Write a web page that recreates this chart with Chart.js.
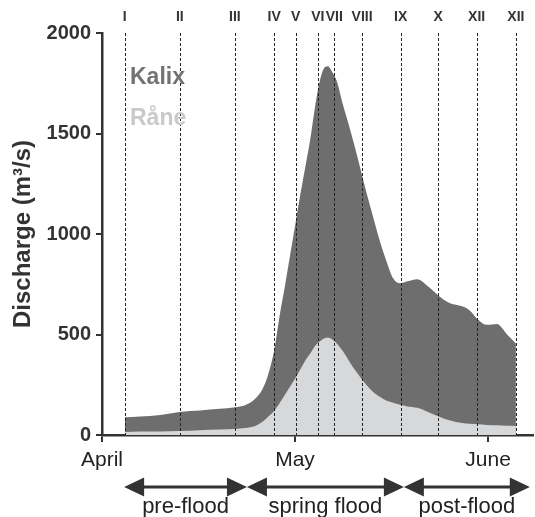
<!DOCTYPE html>
<html>
<head>
<meta charset="utf-8">
<script src="https://cdn.jsdelivr.net/npm/chart.js@4"></script>
<style>
  html, body { margin: 0; padding: 0; background: #fff; }
  #wrap { width: 535px; height: 517px; }
</style>
</head>
<body>
<div id="wrap"><canvas id="myChart" width="535" height="517"></canvas></div>
<script>
// days after 1 April
const days = [3.6, 6.0, 9.2, 12.3, 15.5, 18.6, 21.0, 22.6, 24.2, 25.3, 26.2, 27.2, 28.1, 28.9, 29.7,
  30.5, 31.3, 32.1, 32.9, 33.6, 34.4, 35.2, 35.7, 36.3, 37.1, 38.1, 39.2, 40.3, 41.5, 42.8,
  43.9, 45.0, 46.0, 47.1, 48.3, 49.8, 51.5, 53.4, 55.0, 56.9, 58.1, 59.4, 60.8, 62.4, 64.0, 65.4];
const kalix = [88, 92, 100, 115, 122, 130, 138, 148, 180, 225, 295, 420, 600, 740, 890,
  1040, 1190, 1330, 1470, 1620, 1760, 1830, 1835, 1810, 1760, 1640, 1520, 1390, 1240, 1090,
  965, 860, 780, 755, 765, 775, 740, 688, 655, 640, 620, 575, 548, 552, 500, 455];
const rane = [15, 17, 18, 20, 24, 27, 30, 35, 45, 65, 90, 120, 160, 200, 240,
  280, 325, 370, 405, 440, 465, 482, 485, 478, 455, 415, 360, 310, 260, 215,
  190, 170, 160, 150, 142, 135, 115, 90, 72, 60, 56, 53, 50, 48, 46, 45];

const monthDays = [0, 30.5, 61];
const monthLabels = ["April", "May", "June"];

const sampleDays = [3.6, 12.3, 21.0, 27.2, 30.6, 34.1, 36.7, 41.1, 47.2, 53.1, 59.2, 65.4];
const sampleLabels = ["I", "II", "III", "IV", "V", "VI", "VII", "VIII", "IX", "X", "XII", "XII"];

const phaseEdges = [3.5, 22.9, 47.7, 67.6];
const phaseLabels = ["pre-flood", "spring flood", "post-flood"];

const dark = "#333333";
const font = "'Liberation Sans', Arial, sans-serif";

const overlay = {
  id: "overlay",
  afterDatasetsDraw(chart) {
    const ctx = chart.ctx;
    const x = chart.scales.x;
    const top = chart.chartArea.top, bottom = chart.chartArea.bottom;
    ctx.save();
    // sampling lines
    ctx.strokeStyle = "#222";
    ctx.lineWidth = 1;
    ctx.setLineDash([3, 2]);
    sampleDays.forEach(d => {
      const px = Math.round(x.getPixelForValue(d)) + 0.5;
      ctx.beginPath();
      ctx.moveTo(px, top);
      ctx.lineTo(px, bottom);
      ctx.stroke();
    });
    ctx.setLineDash([]);
    ctx.fillStyle = dark;
    ctx.font = "bold 14px 'Liberation Sans Narrow', " + font;
    ctx.textAlign = "center";
    ctx.textBaseline = "middle";
    sampleLabels.forEach((t, i) => {
      ctx.fillText(t, x.getPixelForValue(sampleDays[i]), 17);
    });
    // series names
    ctx.textAlign = "left";
    ctx.font = "bold 23px " + font;
    ctx.fillStyle = "#737373";
    ctx.fillText("Kalix", 130, 78);
    ctx.fillStyle = "#c9c9c9";
    ctx.fillText("Råne", 130, 119);
    ctx.restore();
  },
  afterDraw(chart) {
    const ctx = chart.ctx;
    const x = chart.scales.x;
    const ay = 487, head = 20, half = 9.5;
    ctx.save();
    ctx.fillStyle = dark;
    ctx.strokeStyle = dark;
    ctx.lineWidth = 3;
    for (let i = 0; i < phaseLabels.length; i++) {
      const x1 = x.getPixelForValue(phaseEdges[i]);
      const x2 = x.getPixelForValue(phaseEdges[i + 1]);
      ctx.beginPath();
      ctx.moveTo(x1 + head - 2, ay);
      ctx.lineTo(x2 - head + 2, ay);
      ctx.stroke();
      ctx.beginPath();
      ctx.moveTo(x1, ay);
      ctx.lineTo(x1 + head, ay - half);
      ctx.lineTo(x1 + head, ay + half);
      ctx.closePath();
      ctx.fill();
      ctx.beginPath();
      ctx.moveTo(x2, ay);
      ctx.lineTo(x2 - head, ay - half);
      ctx.lineTo(x2 - head, ay + half);
      ctx.closePath();
      ctx.fill();
      ctx.fillStyle = "#222";
      ctx.font = "22px " + font;
      ctx.textAlign = "center";
      ctx.textBaseline = "middle";
      ctx.fillText(phaseLabels[i], (x1 + x2) / 2, 507);
      ctx.fillStyle = dark;
    }
    ctx.restore();
  }
};

new Chart(document.getElementById("myChart").getContext("2d"), {
  type: "line",
  data: {
    datasets: [
      {
        label: "Kalix",
        data: days.map((d, i) => ({ x: d, y: kalix[i] })),
        backgroundColor: "#6e6e6e",
        borderWidth: 0,
        pointRadius: 0,
        fill: "origin",
        cubicInterpolationMode: "monotone",
        order: 1
      },
      {
        label: "Råne",
        data: days.map((d, i) => ({ x: d, y: rane[i] })),
        backgroundColor: "#d7d8da",
        borderWidth: 0,
        pointRadius: 0,
        fill: "origin",
        cubicInterpolationMode: "monotone",
        order: 0
      }
    ]
  },
  options: {
    responsive: false,
    animation: false,
    layout: { padding: { top: 33, right: 2, left: 0, bottom: 0 } },
    plugins: { legend: { display: false }, tooltip: { enabled: false } },
    scales: {
      x: {
        type: "linear",
        min: 0,
        max: 68.1,
        afterBuildTicks: axis => { axis.ticks = monthDays.map(v => ({ value: v })); },
        afterFit: axis => { axis.height = 82; },
        border: { color: dark, width: 2.5 },
        grid: { drawOnChartArea: false, color: dark, lineWidth: 2, tickLength: 7 },
        ticks: {
          autoSkip: false,
          maxRotation: 0,
          padding: 6,
          color: "#222",
          font: { family: font, size: 21 },
          callback: (v, i) => monthLabels[i]
        }
      },
      y: {
        min: 0,
        max: 2000,
        afterFit: axis => { axis.width = 102; },
        border: { color: dark, width: 2.5 },
        grid: { drawOnChartArea: false, color: dark, lineWidth: 2, tickLength: 6 },
        ticks: {
          stepSize: 500,
          padding: 5,
          color: dark,
          font: { family: font, size: 20, weight: "bold" },
          callback: v => String(v)
        },
        title: {
          display: true,
          text: "Discharge (m³/s)",
          color: dark,
          padding: { top: 9, bottom: 0 },
          font: { family: font, size: 24, weight: "bold" }
        }
      }
    }
  },
  plugins: [overlay]
});
</script>
</body>
</html>
